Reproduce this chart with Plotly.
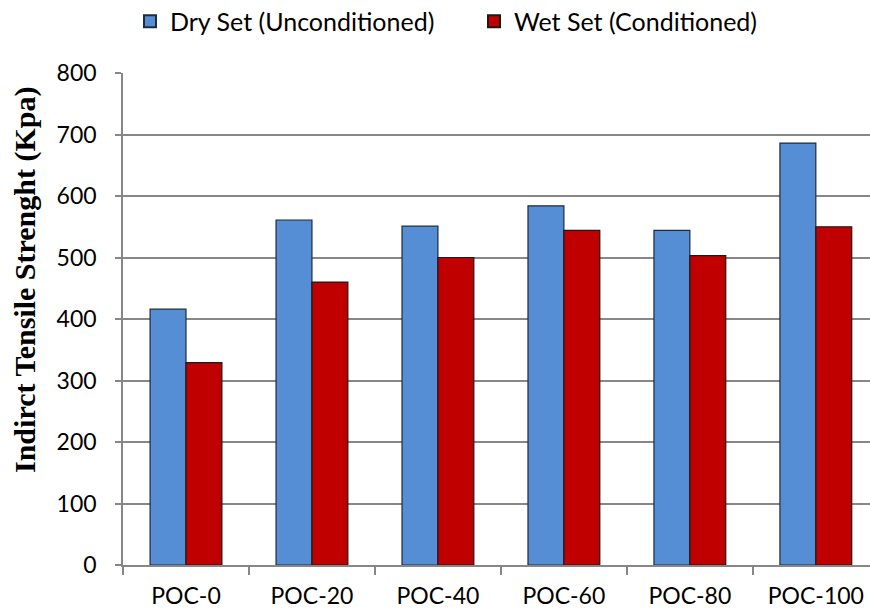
import plotly.graph_objects as go

categories = ["POC-0", "POC-20", "POC-40", "POC-60", "POC-80", "POC-100"]
dry_values = [416, 561, 551, 584, 544, 686]
wet_values = [329, 460, 500, 544, 503, 550]
y_ticks = [0, 100, 200, 300, 400, 500, 600, 700, 800]

label_font = dict(family="Lato, Open Sans, sans-serif", size=23, color="#000000")
legend_font = dict(family="Lato, Open Sans, sans-serif", size=25, color="#000000")
axis_grey = "#878787"

fig = go.Figure()
fig.add_trace(go.Bar(
    name="Dry Set (Unconditioned)", x=categories, y=dry_values,
    marker=dict(color="#558ED5", line=dict(color="#1f2a3a", width=1.2)),
))
fig.add_trace(go.Bar(
    name="Wet Set (Conditioned)", x=categories, y=wet_values,
    marker=dict(color="#C00000", line=dict(color="#1a1a1a", width=1.2)),
))

fig.update_layout(
    width=870, height=614,
    margin=dict(l=123, r=0, t=73, b=49),
    plot_bgcolor="white", paper_bgcolor="white",
    barmode="group", bargap=0.43, bargroupgap=0,
    font=label_font,
    legend=dict(
        orientation="h", xref="container", yref="container",
        x=130 / 870, xanchor="left", y=0.965, yanchor="middle",
        font=legend_font, entrywidth=299, entrywidthmode="pixels",
        itemsizing="constant",
    ),
    showlegend=True,
)
fig.update_xaxes(
    range=[-0.5, 5.43], showline=True, linecolor=axis_grey, linewidth=1.5,
    ticks="outside", tickson="boundaries", ticklen=8, tickcolor=axis_grey,
    tickwidth=1.5, showgrid=False, tickfont=label_font, ticklabelstandoff=10,
)
fig.update_yaxes(
    range=[0, 800], tickvals=y_ticks, showline=True, linecolor=axis_grey,
    linewidth=1.5, ticks="outside", ticklen=6, tickcolor=axis_grey, tickwidth=1.5,
    showgrid=True, gridcolor=axis_grey, gridwidth=1.5, zeroline=False,
    tickfont=label_font, ticklabelstandoff=14,
)

# Y-axis title drawn as a rotated annotation so it can sit above the plot centre
fig.add_annotation(
    text="<b>Indirct Tensile Strenght (Kpa)</b>",
    xref="paper", yref="paper", x=-(123 - 25) / 747, y=(565 - 280) / 492,
    xanchor="center", yanchor="middle", textangle=-90, showarrow=False,
    font=dict(family="Liberation Serif, Times New Roman, serif", size=30, color="#000000"),
)

fig.write_html("out.html")
